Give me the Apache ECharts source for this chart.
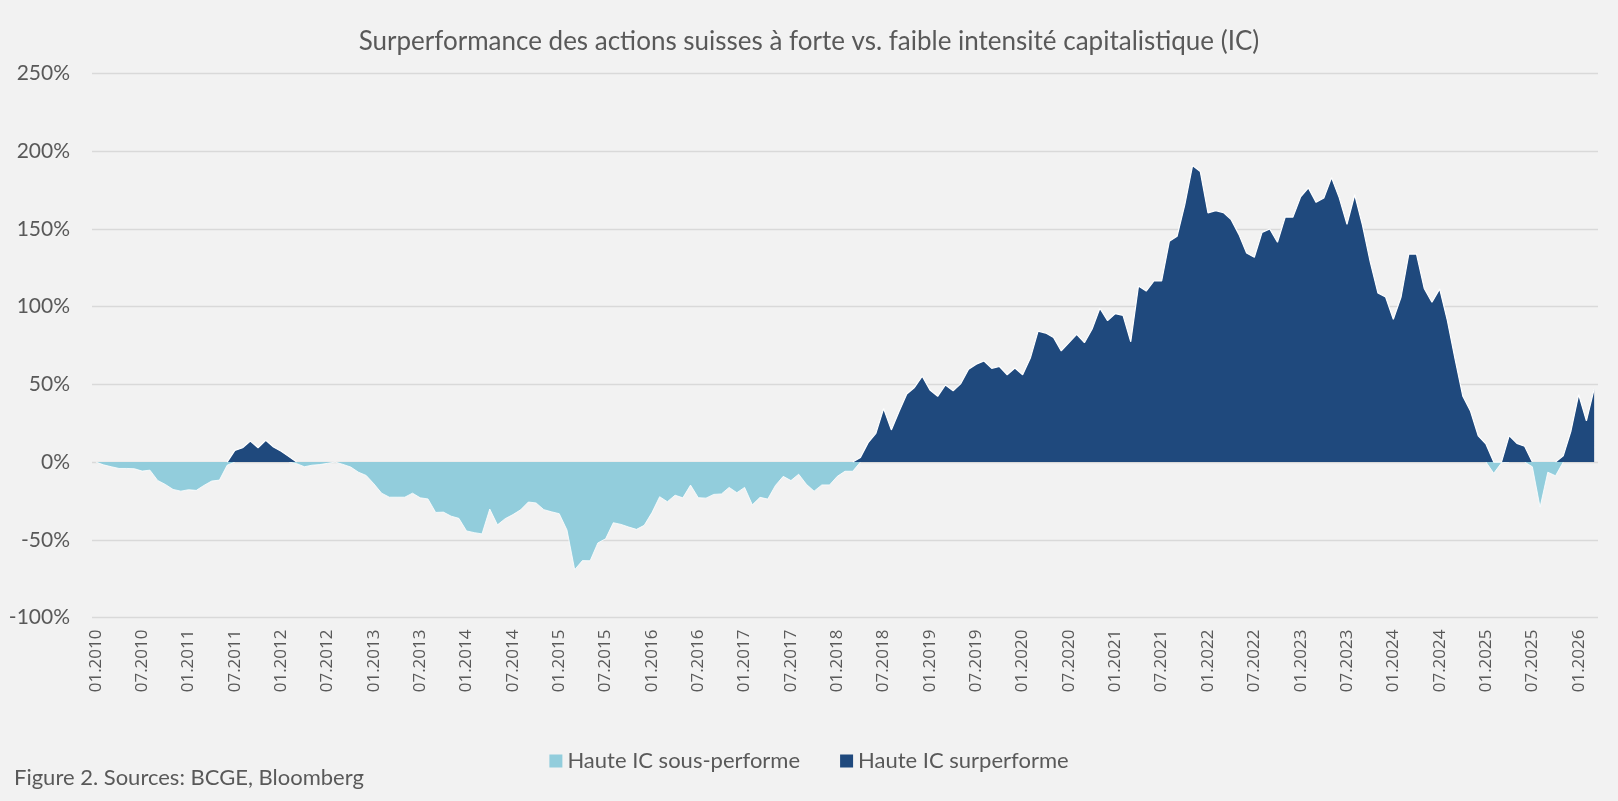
<!DOCTYPE html>
<html><head><meta charset="utf-8">
<script src="https://cdn.jsdelivr.net/npm/echarts@6/dist/echarts.min.js"></script>
<style>html,body{margin:0;padding:0;background:#F2F2F2}#c{width:1618px;height:801px}</style>
</head><body><div id="c"></div>
<script>
// Monthly series, 01.2010 .. 03.2026 (values in %)
const startYear = 2010;
const startMonth = 1;
const values = [
  0, -1.8, -3, -4.1, -4.1, -4.3, -5.8, -5.2, -11.8, -14.4, -17.6, -18.7,
  -17.8, -18.2, -15, -12.2, -11.6, -2, 7.5, 9.2, 13.5, 9.2, 14, 9.7,
  7, 3.5, -1, -3, -2, -1.6, -0.8, 0, -1.5, -3.2, -6.5, -8.6,
  -14, -20, -22.6, -22.6, -22.6, -20, -23, -23.7, -32.4, -32.2, -34.8, -36.2,
  -44.3, -45.4, -46.2, -30.2, -40.4, -36.4, -33.8, -30.7, -25.7, -26.3, -30.6, -32,
  -33.2, -43.7, -69.2, -63.4, -63.5, -52, -49.4, -39, -40.1, -41.8, -43.3, -40.7,
  -32.5, -22.3, -25.5, -21.3, -23, -14.8, -22.9, -23.2, -20.8, -20.5, -16.3, -19.7,
  -16.3, -27.5, -22.7, -23.8, -15, -9.2, -11.9, -7.8, -14.3, -18.7, -14.7, -14.7,
  -9.2, -5.9, -5.9, 3, 12.5, 18.5, 34.5, 20.7, 32.5, 43.8, 48, 55.2,
  46.4, 42.3, 49.6, 45.8, 50.5, 59.7, 63, 65, 60.3, 61.5, 56.2, 60.5,
  56.2, 66.9, 84.3, 83, 80.2, 71.5, 76.8, 82.2, 76.8, 85.6, 99, 91,
  95.5, 94.4, 77.4, 113.3, 110, 116.5, 116.5, 142.1, 145.3, 165.6, 190.8, 187,
  160.3, 161.8, 160.5, 156, 146.5, 134.5, 131.8, 147.8, 150, 141.4, 157.6, 157.6,
  170.7, 176.4, 167.1, 169.9, 183, 170, 153, 172, 152.5, 129, 108.8, 106.2,
  91.8, 106.2, 133.8, 133.8, 111.7, 102.8, 111.4, 91, 66, 42.3, 32.7, 16.8,
  11.5, -7.2, -0.5, 17, 12, 10.2, -3, -29, -6.5, -8.8, 4, 20,
  43.5, 26.5, 47
];
const seriesNames = ['Haute IC sous-performe', 'Haute IC surperforme'];
const seriesColors = ['#92CDDC', '#1F497D'];
const titleText = 'Surperformance des actions suisses à forte vs. faible intensité capitalistique (IC)';
const footerText = 'Figure 2. Sources: BCGE, Bloomberg';

const categories = values.map((_, i) => {
  const k = startMonth - 1 + i;
  const m = k % 12 + 1;
  const y = startYear + Math.floor(k / 12);
  return String(m).padStart(2, '0') + '.' + y;
});

// split into negative / positive parts (null where a part is flat at zero)
function part(sign) {
  return values.map((v, i) => {
    const test = x => x !== undefined && (sign > 0 ? x > 0 : x < 0);
    if (test(v) || test(values[i - 1]) || test(values[i + 1])) {
      return sign > 0 ? Math.max(v, 0) : Math.min(v, 0);
    }
    return null;
  });
}
const negPart = part(-1);
const posPart = part(1);

const FONT = 'Lato';
const TXT = '#595959';
const chart = echarts.init(document.getElementById('c'), null, {renderer: 'canvas'});
chart.setOption({
  backgroundColor: '#F2F2F2',
  animation: false,
  textStyle: {fontFamily: FONT},
  title: [
    {text: titleText, left: 'center', top: 24,
     textStyle: {fontFamily: FONT, fontSize: 26, fontWeight: 'normal', color: TXT}},
    {text: footerText, left: 9, top: 762,
     textStyle: {fontFamily: FONT, fontSize: 22, fontWeight: 'normal', color: TXT}}
  ],
  legend: {
    top: 745, left: 'center', icon: 'rect', itemWidth: 13, itemHeight: 13, itemGap: 40,
    textStyle: {fontFamily: FONT, fontSize: 22, color: TXT},
    data: seriesNames.map((n, k) => ({name: n, itemStyle: {color: seriesColors[k]}}))
  },
  grid: {left: 92, right: 20, top: 73.5, bottom: 183.5, containLabel: false},
  xAxis: {
    type: 'category', data: categories, boundaryGap: true,
    axisLine: {show: false}, axisTick: {show: false},
    axisLabel: {interval: i => i % 6 === 0, rotate: 90, margin: 12,
      fontFamily: 'Open Sans', fontSize: 17, color: TXT},
    splitLine: {show: false}
  },
  yAxis: {
    type: 'value', min: -100, max: 250, interval: 50,
    axisLine: {show: false}, axisTick: {show: false},
    axisLabel: {formatter: '{value}%', margin: 22, fontFamily: FONT, fontSize: 21, color: TXT},
    splitLine: {lineStyle: {color: '#D9D9D9', width: 1.3}}
  },
  series: [
    {name: seriesNames[0], type: 'line', data: negPart, showSymbol: false, symbol: 'none',
     connectNulls: false, color: seriesColors[0],
     lineStyle: {color: '#FFFFFF', width: 0.8},
     areaStyle: {color: seriesColors[0], opacity: 1, origin: 0}, z: 2},
    {name: seriesNames[1], type: 'line', data: posPart, showSymbol: false, symbol: 'none',
     connectNulls: false, color: seriesColors[1],
     lineStyle: {color: '#FFFFFF', width: 1.2},
     areaStyle: {color: seriesColors[1], opacity: 1, origin: 0}, z: 3}
  ]
});
</script>
</body></html>
